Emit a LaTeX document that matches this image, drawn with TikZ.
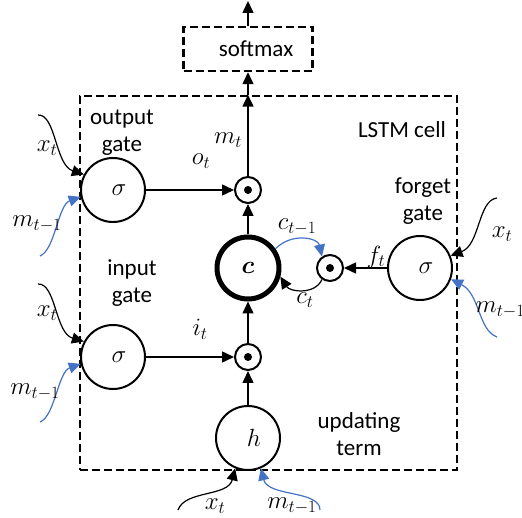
\documentclass[tikz,border=0pt]{standalone}
\usepackage{fontspec}
\usepackage{bm}
\setmainfont{Carlito}
\usetikzlibrary{arrows.meta}
\definecolor{lineblue}{RGB}{68,114,196}
\tikzset{
  gate/.style={circle,draw,line width=2pt,minimum size=64pt,inner sep=0pt,font=\fontsize{25}{28}\selectfont},
  cellnode/.style={circle,draw,line width=5pt,minimum size=62pt,inner sep=0pt,font=\fontsize{25}{28}\selectfont},
  prod/.style={circle,draw,line width=2pt,minimum size=26pt,inner sep=0pt,
    path picture={\fill (path picture bounding box.center) circle (4pt);}},
  dashbox/.style={draw,line width=2.5pt,dash pattern=on 8pt off 4pt,inner sep=0pt},
  flow/.style={line width=1.5pt,-{Triangle[length=12pt,width=11pt]}},
  feed/.style={line width=1.2pt,-{Triangle[length=12pt,width=11pt]}},
  feedblue/.style={feed,lineblue},
  word/.style={align=center,font=\fontsize{23}{27}\selectfont},
  sym/.style={font=\fontsize{25}{28}\selectfont},
}
\begin{document}
\begin{tikzpicture}[x=1pt,y=-1pt]
     \useasboundingbox (0,0) rectangle (522,518);

     \node[dashbox,minimum width=377pt,minimum height=374pt] (cell) at (268.5,283) {};
     \node[dashbox,minimum width=129pt,minimum height=44pt,word] (softmax) at (248,49) {\hspace*{16pt}softmax};
     \coordinate (out) at (248,1);

     \node[gate] (og) at (113,190) {\hspace*{12pt}$\sigma$};
     \node[gate] (ig) at (113,357) {\hspace*{12pt}$\sigma$};
     \node[gate] (fg) at (420,268) {\hspace*{12pt}$\sigma$};
     \node[gate] (h) at (248,438) {\hspace*{12pt}$h$};
     \node[cellnode] (c) at (248,268) {$\bm{c}$};
     \node[prod] (pt) at (248,190) {};
     \node[prod] (pb) at (248,357) {};
     \node[prod] (pr) at (330,268) {};
     \coordinate (mtop) at (pt |- cell.north);

     \draw[flow] (pt) -- (mtop);
     \draw[flow] (mtop) -- (softmax);
     \draw[flow] (softmax) -- (out);
     \draw[flow] (og) -- (pt);
     \draw[flow] (ig) -- (pb);
     \draw[flow] (fg) -- (pr);
     \draw[flow] (c) -- (pt);
     \draw[flow] (pb) -- (c);
     \draw[flow] (h) -- (pb);
     \draw[feedblue] (c.35) .. controls (292,232) and (318,238) .. (pr.125);
     \draw[feed] (pr.235) .. controls (315,295) and (290,292) .. (c.-15);

     \node[sym] (ot) at (201,161) {$o_t$};
     \node[sym] (it) at (200,329) {$i_t$};
     \node[sym] (ft) at (376,257) {$f_t$};
     \node[sym] (mt) at (228,140) {$m_t$};
     \node[sym] (cprev) at (297,227) {$c_{t-1}$};
     \node[sym] (ct) at (305,300) {$c_t$};

     \node[word] (outlbl) at (122,133) {output\\gate};
     \node[word] (inlbl) at (132,283) {input\\gate};
     \node[word] (fglbl) at (423,201) {forget\\gate};
     \node[word] (uplbl) at (359,434) {updating\\term};
     \node[word] (celllbl) at (402,130) {LSTM cell};

     \coordinate (ox) at (38,115);
     \coordinate (om) at (40,256);
     \draw[feed] (ox) .. controls (56,114) and (55,165) .. (og.152);
     \draw[feedblue] (om) .. controls (55,250) and (58,205) .. (og.192);
     \node[sym] (oxl) at (47,148) {$x_t$};
     \node[sym] (oml) at (37,224) {$m_{t-1}$};

     \coordinate (ix) at (38,284);
     \coordinate (im) at (40,422);
     \draw[feed] (ix) .. controls (56,283) and (55,333) .. (ig.152);
     \draw[feedblue] (im) .. controls (55,416) and (58,372) .. (ig.192);
     \node[sym] (ixl) at (47,313) {$x_t$};
     \node[sym] (iml) at (35,392) {$m_{t-1}$};

     \coordinate (fx) at (497,198);
     \coordinate (fm) at (497,337);
     \draw[feed] (fx) .. controls (478,200) and (480,245) .. (fg.22);
     \draw[feedblue] (fm) .. controls (478,330) and (480,294) .. (fg.-20);
     \node[sym] (fxl) at (502,234) {$x_t$};
     \node[sym,anchor=west] (fml) at (472,310) {$m_{t-1}$};

     \coordinate (hx) at (178,510);
     \coordinate (hm) at (320,510);
     \draw[feed] (hx) .. controls (185,490) and (228,497) .. (h.-113);
     \draw[feedblue] (hm) .. controls (320,490) and (268,497) .. (h.-67);
     \node[sym] (hxl) at (215,506) {$x_t$};
     \node[sym] (hml) at (292,506) {$m_{t-1}$};
\end{tikzpicture}
\end{document}
